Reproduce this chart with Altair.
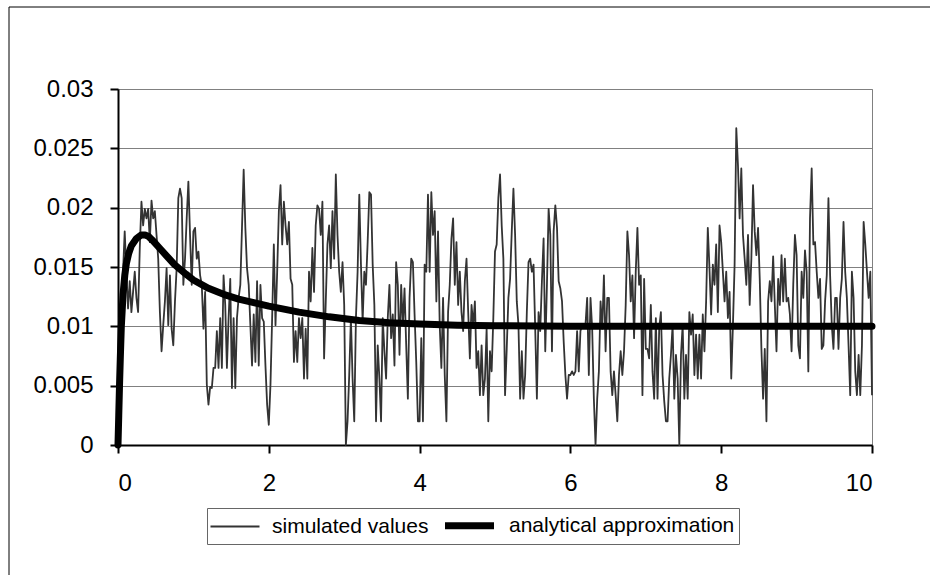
import altair as alt
import pandas as pd

# ---- data ----
SERIES = ["simulated values", "analytical approximation"]

# simulated values, sampled evenly over t = 0 .. 10
sim_seg1 = [0.0070, 0.0107, 0.0115, 0.0146, 0.0180, 0.0146, 0.0115, 0.0138, 0.0112, 0.0129,
            0.0146, 0.0124, 0.0112, 0.0166, 0.0205, 0.0185, 0.0199, 0.0191, 0.0199, 0.0171,
            0.0206, 0.0191, 0.0197, 0.0177, 0.0157, 0.0112, 0.0079, 0.0101, 0.0121, 0.0149,
            0.0101, 0.0143, 0.0098, 0.0084, 0.0121, 0.0149, 0.0208, 0.0216, 0.0208, 0.0135,
            0.0157, 0.0191, 0.0222, 0.0177, 0.0135, 0.0180, 0.0183, 0.0157, 0.0163, 0.0143,
            0.0135, 0.0098, 0.0129, 0.0051, 0.0034, 0.0049, 0.0048, 0.0065, 0.0065, 0.0096,
            0.0065, 0.0107, 0.0065, 0.0143, 0.0118, 0.0065, 0.0107, 0.0140, 0.0048, 0.0107,
            0.0048, 0.0107, 0.0124]
sim_seg2 = [0.0135, 0.0183, 0.0232, 0.0183, 0.0149, 0.0135, 0.0101, 0.0067, 0.0110, 0.0070,
            0.0138, 0.0067, 0.0135, 0.0107, 0.0104, 0.0067, 0.0034, 0.0017, 0.0051, 0.0107,
            0.0169, 0.0101, 0.0146, 0.0197, 0.0219, 0.0169, 0.0205, 0.0185, 0.0169, 0.0188,
            0.0140, 0.0135, 0.0070, 0.0096, 0.0070, 0.0107, 0.0090, 0.0107, 0.0056, 0.0098,
            0.0056, 0.0146, 0.0121, 0.0166, 0.0129, 0.0185, 0.0202, 0.0199, 0.0177, 0.0205,
            0.0073, 0.0121, 0.0169, 0.0185, 0.0149, 0.0197, 0.0157, 0.0228, 0.0177, 0.0146,
            0.0129, 0.0154, 0.0118, 0.0000, 0.0020, 0.0059, 0.0107, 0.0056, 0.0020, 0.0107,
            0.0146, 0.0211, 0.0152, 0.0104, 0.0146]
sim_seg3 = [0.0135, 0.0171, 0.0213, 0.0211, 0.0152, 0.0118, 0.0020, 0.0084, 0.0056, 0.0020,
            0.0107, 0.0079, 0.0056, 0.0107, 0.0135, 0.0090, 0.0110, 0.0067, 0.0154, 0.0135,
            0.0076, 0.0135, 0.0101, 0.0132, 0.0084, 0.0039, 0.0124, 0.0157, 0.0154, 0.0110,
            0.0070, 0.0020, 0.0020, 0.0090, 0.0020, 0.0152, 0.0146, 0.0211, 0.0146, 0.0213,
            0.0177, 0.0197, 0.0121, 0.0180, 0.0101, 0.0065, 0.0124, 0.0059, 0.0020, 0.0112,
            0.0135, 0.0174, 0.0191, 0.0135, 0.0171, 0.0118, 0.0146, 0.0112, 0.0096, 0.0138,
            0.0157, 0.0112, 0.0073, 0.0118, 0.0101, 0.0121, 0.0065, 0.0079, 0.0042, 0.0084,
            0.0042, 0.0056, 0.0098, 0.0020, 0.0079]
sim_seg4 = [0.0062, 0.0107, 0.0163, 0.0169, 0.0208, 0.0228, 0.0185, 0.0157, 0.0042, 0.0081,
            0.0124, 0.0140, 0.0180, 0.0216, 0.0177, 0.0121, 0.0101, 0.0039, 0.0079, 0.0039,
            0.0059, 0.0112, 0.0154, 0.0157, 0.0146, 0.0152, 0.0098, 0.0039, 0.0112, 0.0096,
            0.0138, 0.0174, 0.0079, 0.0135, 0.0199, 0.0177, 0.0079, 0.0180, 0.0202, 0.0183,
            0.0138, 0.0132, 0.0121, 0.0087, 0.0059, 0.0039, 0.0059, 0.0059, 0.0062, 0.0059,
            0.0062, 0.0096, 0.0062, 0.0096, 0.0101, 0.0101, 0.0101, 0.0124, 0.0059, 0.0124,
            0.0098, 0.0039, 0.0000, 0.0039, 0.0062, 0.0121, 0.0098, 0.0143, 0.0079, 0.0124,
            0.0124, 0.0062, 0.0042, 0.0062, 0.0042]
sim_seg5 = [0.0020, 0.0059, 0.0079, 0.0059, 0.0079, 0.0118, 0.0180, 0.0160, 0.0121, 0.0143,
            0.0090, 0.0146, 0.0183, 0.0135, 0.0143, 0.0042, 0.0140, 0.0081, 0.0081, 0.0073,
            0.0118, 0.0062, 0.0039, 0.0107, 0.0039, 0.0098, 0.0112, 0.0059, 0.0037, 0.0020,
            0.0020, 0.0056, 0.0076, 0.0101, 0.0039, 0.0076, 0.0056, 0.0000, 0.0076, 0.0101,
            0.0039, 0.0076, 0.0039, 0.0112, 0.0093, 0.0110, 0.0059, 0.0093, 0.0056, 0.0093,
            0.0056, 0.0110, 0.0079, 0.0121, 0.0183, 0.0149, 0.0110, 0.0152, 0.0135, 0.0169,
            0.0112, 0.0185, 0.0171, 0.0146, 0.0121, 0.0146, 0.0107, 0.0129, 0.0056, 0.0101,
            0.0152, 0.0267, 0.0236, 0.0191, 0.0233]
sim_seg6 = [0.0177, 0.0157, 0.0135, 0.0177, 0.0118, 0.0157, 0.0219, 0.0180, 0.0160, 0.0183,
            0.0140, 0.0081, 0.0039, 0.0081, 0.0020, 0.0121, 0.0138, 0.0121, 0.0159, 0.0118,
            0.0079, 0.0140, 0.0118, 0.0160, 0.0121, 0.0157, 0.0121, 0.0124, 0.0110, 0.0079,
            0.0135, 0.0177, 0.0160, 0.0084, 0.0073, 0.0146, 0.0124, 0.0164, 0.0146, 0.0062,
            0.0191, 0.0233, 0.0169, 0.0171, 0.0146, 0.0124, 0.0140, 0.0081, 0.0084, 0.0121,
            0.0143, 0.0208, 0.0143, 0.0101, 0.0081, 0.0124, 0.0124, 0.0081, 0.0124, 0.0140,
            0.0188, 0.0146, 0.0124, 0.0084, 0.0042, 0.0146, 0.0124, 0.0062, 0.0042, 0.0076,
            0.0042, 0.0084, 0.0188, 0.0169, 0.0146, 0.0124, 0.0146, 0.0042]
sim_values = sim_seg1 + sim_seg2 + sim_seg3 + sim_seg4 + sim_seg5 + sim_seg6
T_END = 10.0
sim_t = [i * T_END / (len(sim_values) - 1) for i in range(len(sim_values))]

# analytical approximation
an_t = [0, 0.01, 0.02, 0.03, 0.044, 0.067, 0.09, 0.111, 0.14, 0.178, 0.244, 0.31, 0.36,
        0.40, 0.45, 0.55, 0.65, 0.75, 0.9, 1.0, 1.2, 1.4, 1.6, 1.8, 2.0, 2.4, 2.8, 3.2,
        3.6, 4.0, 4.5, 5.0, 6.0, 7.0, 8.0, 9.0, 10.0]
an_values = [0, 0.0025, 0.005, 0.0072, 0.0100, 0.0127, 0.0143, 0.0153, 0.0161, 0.0168,
             0.0174, 0.0177, 0.0177, 0.0176, 0.0173, 0.0166, 0.0159, 0.0152, 0.0144, 0.0139,
             0.0132, 0.0127, 0.0123, 0.0120, 0.0117, 0.0112, 0.0108, 0.0105, 0.0103, 0.0102,
             0.0101, 0.01005, 0.0100, 0.0100, 0.0100, 0.0100, 0.0100]

x_ticks = [0, 2, 4, 6, 8, 10]
y_ticks = [0, 0.005, 0.01, 0.015, 0.02, 0.025, 0.03]

sim_df = pd.DataFrame({"t": sim_t, "v": sim_values, "series": SERIES[0]})
an_df = pd.DataFrame({"t": an_t, "v": an_values, "series": SERIES[1]})

FONT = "Liberation Sans"

x_enc = alt.X("t:Q", scale=alt.Scale(domain=[0, 10], nice=False, zero=False),
              axis=alt.Axis(values=x_ticks, title=None, grid=False, format="d"))
y_enc = alt.Y("v:Q", scale=alt.Scale(domain=[0, 0.03], nice=False),
              axis=alt.Axis(values=y_ticks, title=None, grid=True, format="~g"))
color_enc = alt.Color("series:N", title=None,
                      scale=alt.Scale(domain=SERIES, range=["#333333", "#000000"]))
width_enc = alt.StrokeWidth("series:N", title=None,
                            scale=alt.Scale(domain=SERIES, range=[1.8, 7], padding=0))

frame = alt.Chart(pd.DataFrame({"k": [0]})).mark_rect(
    fill=None, stroke="#000000", strokeWidth=1
).encode(x=alt.value(-109), x2=alt.value(900), y=alt.value(-82), y2=alt.value(600))

sim_line = alt.Chart(sim_df).mark_line(strokeJoin="round").encode(
    x=x_enc, y=y_enc, color=color_enc, strokeWidth=width_enc)

an_line = alt.Chart(an_df).mark_line(strokeCap="round", strokeJoin="round").encode(
    x=x_enc, y=y_enc, color=color_enc, strokeWidth=width_enc)

chart = alt.layer(frame, sim_line, an_line).properties(
    width=754, height=356,
    autosize=alt.AutoSizeParams(type="none"),
    padding={"left": 118, "top": 89, "right": 58, "bottom": 130},
    background="white",
).configure_view(
    stroke="#808080", strokeWidth=1
).configure_axis(
    labelFont=FONT, labelFontSize=24, labelColor="#000000",
    domainColor="#000000", domainWidth=2,
    tickColor="#000000", tickWidth=2, tickSize=8,
    gridColor="#808080", gridWidth=1,
).configure_axisX(
    labelPadding=18,
).configure_axisY(
    labelPadding=17,
).configure_legend(
    orient="none", legendX=89, legendY=419, direction="horizontal",
    fillColor="#ffffff", strokeColor="#666666", padding=4,
    labelFont=FONT, labelFontSize=21, labelColor="#000000", labelLimit=600,
    symbolType="M-2.45,0H2.45", symbolSize=400, symbolOffset=13,
    labelOffset=26, columnPadding=2,
)

chart.save("out.html", embed_options={"renderer": "svg", "actions": False})
